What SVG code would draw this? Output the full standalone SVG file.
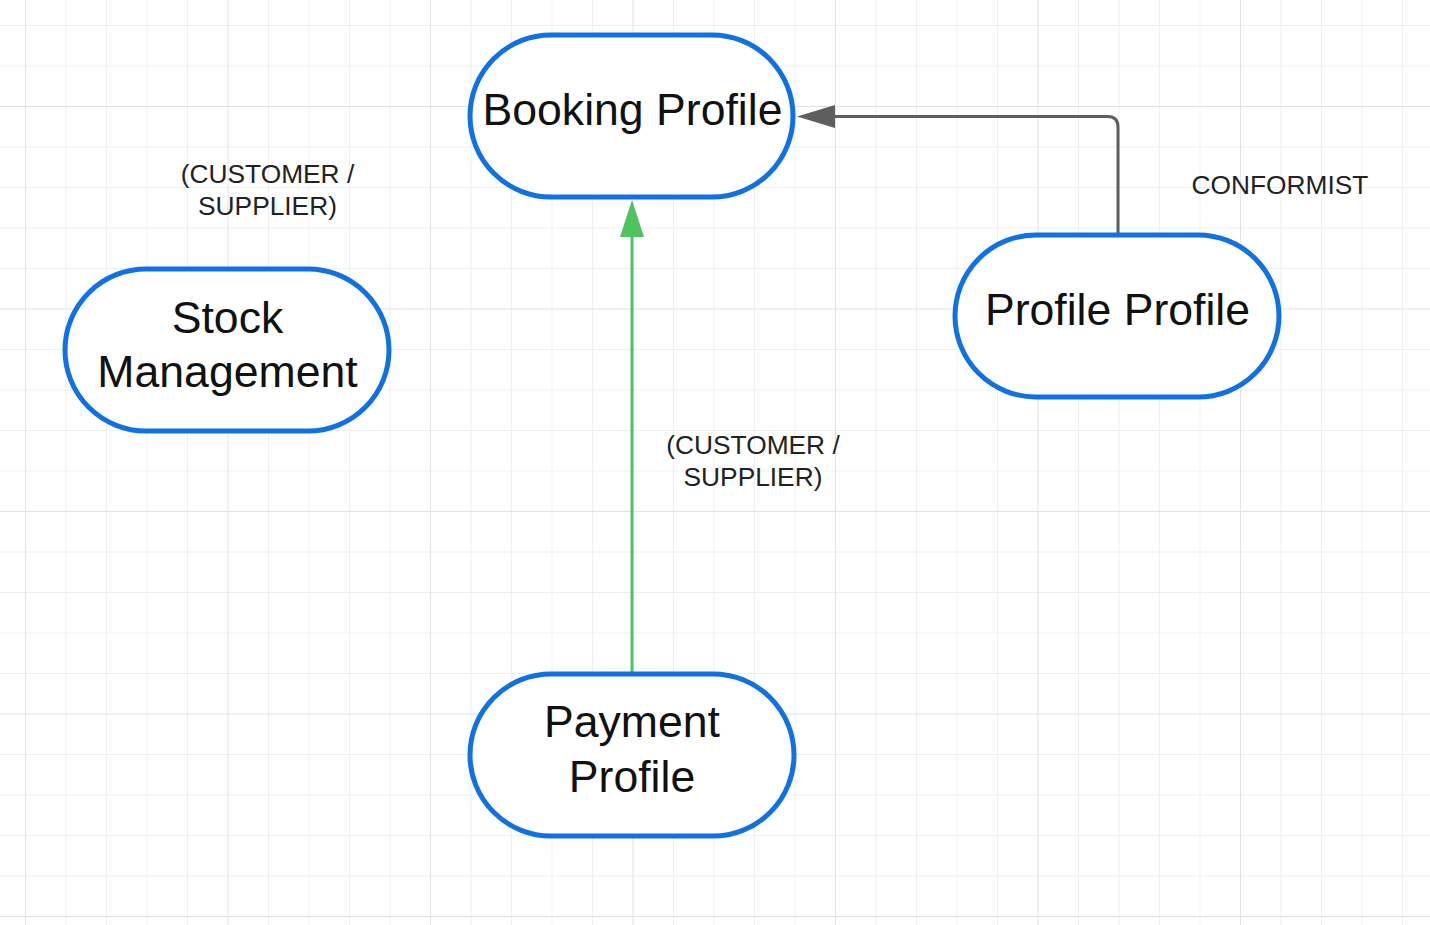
<svg xmlns="http://www.w3.org/2000/svg" width="1430" height="925" viewBox="0 0 1430 925">
  <defs>
    <style>
      .grid-minor { stroke: #efefef; stroke-width: 1; fill: none; }
      .grid-major { stroke: #e2e2e2; stroke-width: 1; fill: none; }
      .node { fill: #ffffff; stroke: #1071e5; stroke-width: 5; }
      .node-text { font-family: "Liberation Sans", Arial, sans-serif; font-size: 44.6px; fill: #111111; text-anchor: middle; }
      .label { font-family: "Liberation Sans", Arial, sans-serif; font-size: 26.3px; fill: #222222; text-anchor: middle; }
      .conn-gray { stroke: #5e5e5e; stroke-width: 3; fill: none; }
      .conn-green { stroke: #50c35f; stroke-width: 3; fill: none; }
    </style>
    <marker id="arrow-gray" viewBox="0 0 38 23" refX="0" refY="11.5" markerWidth="38" markerHeight="23" markerUnits="userSpaceOnUse" orient="auto">
      <path d="M0,0 L38,11.5 L0,23 Z" fill="#5e5e5e"/>
    </marker>
    <marker id="arrow-green" viewBox="0 0 37 24" refX="0" refY="12" markerWidth="37" markerHeight="24" markerUnits="userSpaceOnUse" orient="auto">
      <path d="M0,0 L37,12 L0,24 Z" fill="#50c35f"/>
    </marker>
  </defs>

  <rect width="1430" height="925" fill="#ffffff"/>

  <g id="grid">
    <path class="grid-minor" d="M66,0V925 M106.5,0V925 M147,0V925 M187.5,0V925 M268.5,0V925 M309,0V925 M349.5,0V925 M390,0V925 M471,0V925 M511.5,0V925 M552,0V925 M592.5,0V925 M673.5,0V925 M714,0V925 M754.5,0V925 M795,0V925 M876,0V925 M916.5,0V925 M957,0V925 M997.5,0V925 M1078.5,0V925 M1119,0V925 M1159.5,0V925 M1200,0V925 M1281,0V925 M1321.5,0V925 M1362,0V925 M1402.5,0V925
      M0,25.5H1430 M0,66H1430 M0,147H1430 M0,187.5H1430 M0,228H1430 M0,268.5H1430 M0,349.5H1430 M0,390H1430 M0,430.5H1430 M0,471H1430 M0,552H1430 M0,592.5H1430 M0,633H1430 M0,673.5H1430 M0,754.5H1430 M0,795H1430 M0,835.5H1430 M0,876H1430"/>
    <path class="grid-major" d="M25.5,0V925 M228,0V925 M430.5,0V925 M633,0V925 M835.5,0V925 M1038,0V925 M1240.5,0V925
      M0,106.5H1430 M0,309H1430 M0,511.5H1430 M0,714H1430 M0,916.5H1430"/>
  </g>

  <g id="connectors">
    <path id="conn-conformist" class="conn-gray" d="M1118,233 L1118,127 Q1118,116.5 1107.5,116.5 L835,116.5" marker-end="url(#arrow-gray)"/>
    <path id="conn-payment-booking" class="conn-green" d="M632,672 L632,237" marker-end="url(#arrow-green)"/>
  </g>

  <g id="node-booking">
    <rect class="node" x="470" y="35" width="323" height="162" rx="81" ry="81"/>
    <text class="node-text" x="632.5" y="125">Booking Profile</text>
  </g>

  <g id="node-stock">
    <rect class="node" x="65" y="269" width="324" height="162" rx="81" ry="81"/>
    <text class="node-text" x="227.5" y="333">Stock</text>
    <text class="node-text" x="227.5" y="387">Management</text>
  </g>

  <g id="node-profile">
    <rect class="node" x="955" y="235" width="324" height="162" rx="81" ry="81"/>
    <text class="node-text" x="1117.5" y="325">Profile Profile</text>
  </g>

  <g id="node-payment">
    <rect class="node" x="470" y="674" width="324" height="162" rx="81" ry="81"/>
    <text class="node-text" x="632" y="737">Payment</text>
    <text class="node-text" x="632" y="792">Profile</text>
  </g>

  <g id="labels">
    <text class="label" x="267.5" y="183">(CUSTOMER /</text>
    <text class="label" x="267.5" y="215">SUPPLIER)</text>
    <text class="label" x="753" y="454">(CUSTOMER /</text>
    <text class="label" x="753" y="486">SUPPLIER)</text>
    <text class="label" x="1280" y="194">CONFORMIST</text>
  </g>
</svg>
